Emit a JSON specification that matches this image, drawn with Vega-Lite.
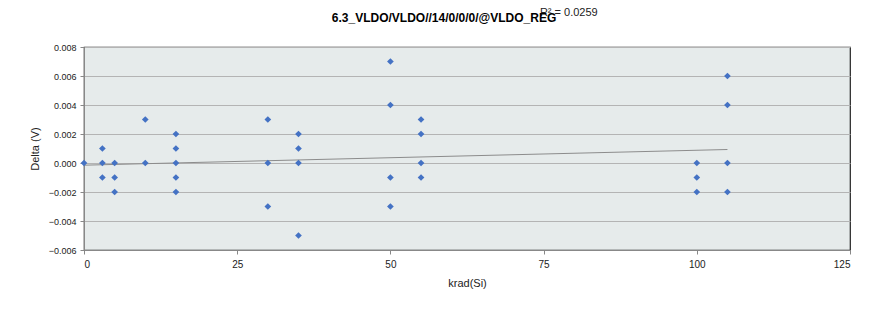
{
  "$schema": "https://vega.github.io/schema/vega-lite/v6.json",
  "width": 766,
  "height": 203,
  "autosize": {"type": "none"},
  "padding": {"left": 84, "top": 47, "right": 26, "bottom": 60},
  "background": "#ffffff",
  "config": {
    "font": "Liberation Sans",
    "view": {"fill": "#E6EBEB", "stroke": "#222222", "strokeWidth": 1.2}
  },
  "title": {
    "text": "6.3_VLDO/VLDO//14/0/0/0/@VLDO_REG",
    "fontSize": 12,
    "fontWeight": "bold",
    "font": "Liberation Sans",
    "color": "#000000",
    "anchor": "middle",
    "frame": "group",
    "offset": 0,
    "dy": 18,
    "dx": -23
  },
  "datasets": {
    "points": [
      {"krad": 0, "delta": 0.000},
      {"krad": 3, "delta": 0.001},
      {"krad": 3, "delta": 0.000},
      {"krad": 3, "delta": -0.001},
      {"krad": 5, "delta": 0.000},
      {"krad": 5, "delta": -0.001},
      {"krad": 5, "delta": -0.002},
      {"krad": 10, "delta": 0.003},
      {"krad": 10, "delta": 0.000},
      {"krad": 15, "delta": 0.002},
      {"krad": 15, "delta": 0.001},
      {"krad": 15, "delta": 0.000},
      {"krad": 15, "delta": -0.001},
      {"krad": 15, "delta": -0.002},
      {"krad": 30, "delta": 0.003},
      {"krad": 30, "delta": 0.000},
      {"krad": 30, "delta": -0.003},
      {"krad": 35, "delta": 0.002},
      {"krad": 35, "delta": 0.001},
      {"krad": 35, "delta": 0.000},
      {"krad": 35, "delta": -0.005},
      {"krad": 50, "delta": 0.007},
      {"krad": 50, "delta": 0.004},
      {"krad": 50, "delta": -0.001},
      {"krad": 50, "delta": -0.003},
      {"krad": 55, "delta": 0.003},
      {"krad": 55, "delta": 0.002},
      {"krad": 55, "delta": 0.000},
      {"krad": 55, "delta": -0.001},
      {"krad": 100, "delta": 0.000},
      {"krad": 100, "delta": -0.001},
      {"krad": 100, "delta": -0.002},
      {"krad": 105, "delta": 0.006},
      {"krad": 105, "delta": 0.004},
      {"krad": 105, "delta": 0.000},
      {"krad": 105, "delta": -0.002}
    ],
    "trend": [
      {"krad": 0, "delta": -0.00015},
      {"krad": 105, "delta": 0.00093}
    ],
    "rsquared": [
      {"krad": 74.4, "delta": 0.01034, "note": "R² = 0.0259"}
    ]
  },
  "encoding": {
    "x": {
      "field": "krad", "type": "quantitative",
      "scale": {"domain": [0, 125], "nice": false, "zero": false},
      "axis": {
        "title": "krad(Si)", "values": [0, 25, 50, 75, 100, 125],
        "grid": false, "domainColor": "#888888", "tickColor": "#888888",
        "tickSize": 4, "labelFontSize": 10, "labelColor": "#222222",
        "titleFontSize": 11, "titleFontWeight": "normal", "titleColor": "#222222",
        "labelPadding": 5, "titlePadding": 8
      }
    },
    "y": {
      "field": "delta", "type": "quantitative",
      "scale": {"domain": [-0.006, 0.008], "nice": false, "zero": false},
      "axis": {
        "title": "Delta (V)", "values": [-0.006, -0.004, -0.002, 0, 0.002, 0.004, 0.006, 0.008],
        "format": ".3f", "grid": true, "gridColor": "#B4B4B4", "gridWidth": 1,
        "domainColor": "#888888", "tickColor": "#888888", "tickSize": 4,
        "labelFontSize": 9, "labelColor": "#222222",
        "titleFontSize": 11, "titleFontWeight": "normal", "titleColor": "#222222",
        "labelPadding": 4, "titlePadding": 8
      }
    }
  },
  "layer": [
    {
      "data": {"name": "trend"},
      "mark": {"type": "line", "color": "#8C8C8C", "strokeWidth": 1}
    },
    {
      "data": {"name": "points"},
      "mark": {"type": "point", "shape": "diamond", "filled": true, "color": "#4472C4", "size": 45, "opacity": 1}
    },
    {
      "data": {"name": "rsquared"},
      "mark": {"type": "text", "fontSize": 11, "color": "#222222", "align": "left", "baseline": "middle", "clip": false, "font": "Liberation Sans"},
      "encoding": {
        "text": {"field": "note", "type": "nominal"}
      }
    }
  ]
}
